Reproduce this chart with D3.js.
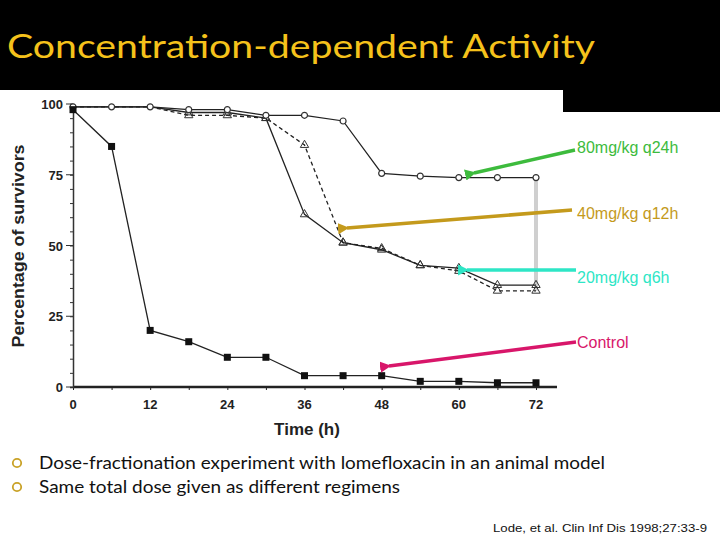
<!DOCTYPE html>
<html>
<head>
<meta charset="utf-8">
<script src="https://cdn.jsdelivr.net/npm/d3@7"></script>
<style>
  body { margin: 0; background: #fff; }
  svg { display: block; }
</style>
</head>
<body>
<div id="chart"></div>
<script>
// data
var hours = [0, 6, 12, 18, 24, 30, 36, 42, 48, 54, 60, 66, 72];
var q24h = [99, 99, 99, 98, 98, 96, 96, 94, 75.5, 74.5, 74, 74, 74];
var q12h = [99, 99, 99, 96, 96, 95, 85.5, 51, 49, 43, 41, 34, 34];
var q6h = [99, 99, 99, 97, 97, 95, 61, 51, 48.5, 43, 42, 36, 36];
var control = [98, 85, 20, 16, 10.5, 10.5, 4, 4, 4, 2, 2, 1.5, 1.5];
var xTicks = [0, 12, 24, 36, 48, 60, 72];
var yTicks = [0, 25, 50, 75, 100];
var labels = ["80mg/kg q24h", "40mg/kg q12h", "20mg/kg q6h", "Control"];
var bullets = ["Dose-fractionation experiment with lomefloxacin in an animal model",
               "Same total dose given as different regimens"];

var width = 720, height = 540;
var svg = d3.select('#chart').append('svg')
    .attr('width', width)
    .attr('height', height);

svg.append('rect').attr('width', width).attr('height', height).attr('fill', '#fff');

// black title band
svg.append('rect').attr('x', 0).attr('y', 0).attr('width', width).attr('height', 90).attr('fill', '#000');
svg.append('rect').attr('x', 563).attr('y', 89).attr('width', 157).attr('height', 23).attr('fill', '#000');

svg.append('text')
    .attr('x', 7).attr('y', 58)
    .attr('font-family', 'Lato, "Open Sans", sans-serif')
    .attr('font-size', 33)
    .attr('fill', '#f5c21b')
    .attr('textLength', 588)
    .attr('lengthAdjust', 'spacingAndGlyphs')
    .text('Concentration-dependent Activity');

var x = d3.scaleLinear().domain([0, 72]).range([73, 536]);
var y = d3.scaleLinear().domain([0, 100]).range([387, 104]);

// axes
var xAxis = svg.append('g').attr('transform', 'translate(0,387)');
xAxis.append('line').attr('x1', 73).attr('x2', 557).attr('stroke', '#999').attr('stroke-width', 2.5);
xAxis.call(d3.axisBottom(x).tickValues(d3.range(0, 73, 6)).tickSize(3).tickFormat(''))
    .call(g => g.select('.domain').remove())
    .call(g => g.selectAll('line').attr('stroke', '#222'));
xAxis.selectAll('.lbl').data(xTicks).enter().append('text')
    .attr('class', 'lbl')
    .attr('x', d => x(d)).attr('y', 22)
    .attr('text-anchor', 'middle')
    .attr('font-family', 'Arial, "Liberation Sans", sans-serif')
    .attr('font-weight', 'bold')
    .attr('font-size', 13)
    .attr('fill', '#222')
    .text(d => d);

var yAxis = svg.append('g').attr('transform', 'translate(73,0)');
yAxis.call(d3.axisLeft(y).tickValues(d3.range(0, 101, 5)).tickSize(3).tickFormat(''))
    .call(g => g.select('.domain').attr('stroke', '#333').attr('stroke-width', 1.5))
    .call(g => g.selectAll('.tick line').attr('stroke', '#333'));
yAxis.selectAll('.big').data(yTicks).enter().append('line')
    .attr('class', 'big')
    .attr('x1', -7).attr('x2', 0)
    .attr('y1', d => y(d)).attr('y2', d => y(d))
    .attr('stroke', '#333');
yAxis.selectAll('.lbl').data(yTicks).enter().append('text')
    .attr('class', 'lbl')
    .attr('x', -10).attr('y', d => y(d) + 5)
    .attr('text-anchor', 'end')
    .attr('font-family', 'Arial, "Liberation Sans", sans-serif')
    .attr('font-weight', 'bold')
    .attr('font-size', 13)
    .attr('fill', '#222')
    .text(d => d);

svg.append('text')
    .attr('transform', 'translate(24,246) rotate(-90)')
    .attr('text-anchor', 'middle')
    .attr('font-family', 'Arial, "Liberation Sans", sans-serif')
    .attr('font-weight', 'bold')
    .attr('font-size', 16)
    .attr('fill', '#222')
    .attr('textLength', 203)
    .attr('lengthAdjust', 'spacingAndGlyphs')
    .text('Percentage of survivors');

svg.append('text')
    .attr('x', 307).attr('y', 435)
    .attr('text-anchor', 'middle')
    .attr('font-family', 'Arial, "Liberation Sans", sans-serif')
    .attr('font-weight', 'bold')
    .attr('font-size', 17)
    .attr('fill', '#222')
    .text('Time (h)');

// grey bracket at 72 h
svg.append('line')
    .attr('x1', x(72)).attr('x2', x(72))
    .attr('y1', y(74)).attr('y2', y(34))
    .attr('stroke', '#cfcfcf').attr('stroke-width', 4);

var line = d3.line().x(d => x(d[0])).y(d => y(d[1]));
function pairs(vals) { return hours.map((h, i) => [h, vals[i]]); }

var series = [
  {name: 'q12h', vals: q12h, dash: '4,3', marker: 'tri'},
  {name: 'q6h', vals: q6h, dash: null, marker: 'tri'},
  {name: 'q24h', vals: q24h, dash: null, marker: 'circle'},
  {name: 'control', vals: control, dash: null, marker: 'square'}
];

series.forEach(function(s) {
  svg.append('path')
      .datum(pairs(s.vals))
      .attr('d', line)
      .attr('fill', 'none')
      .attr('stroke', '#222')
      .attr('stroke-width', 1.3)
      .attr('stroke-dasharray', s.dash);
  var pts = svg.append('g').selectAll('g').data(pairs(s.vals)).enter().append('g')
      .attr('transform', d => 'translate(' + x(d[0]) + ',' + y(d[1]) + ')');
  if (s.marker === 'square') {
    pts.append('rect').attr('x', -3.5).attr('y', -3.5).attr('width', 7).attr('height', 7).attr('fill', '#111');
  } else if (s.marker === 'circle') {
    pts.append('circle').attr('r', 3).attr('fill', '#fff').attr('stroke', '#333').attr('stroke-width', 1.2);
  } else {
    pts.filter(d => d[0] > 12).append('path')
        .attr('d', d3.symbol(d3.symbolTriangle, 30))
        .attr('fill', 'none').attr('stroke', '#333').attr('stroke-width', 1);
  }
});

// annotation arrows
var notes = [
  {text: labels[0], color: '#3dbb3d', tx: 577, ty: 147, x1: 575, y1: 150, x2: 474, y2: 173},
  {text: labels[1], color: '#c49a1c', tx: 577, ty: 213, x1: 572, y1: 210, x2: 347, y2: 228},
  {text: labels[2], color: '#2ee6c6', tx: 577, ty: 277, x1: 576, y1: 270, x2: 467, y2: 270},
  {text: labels[3], color: '#d8166a', tx: 577, ty: 342, x1: 576, y1: 342, x2: 389, y2: 366}
];

var defs = svg.append('defs');
notes.forEach(function(n, i) {
  defs.append('marker')
      .attr('id', 'arr' + i)
      .attr('viewBox', '0 0 10 10')
      .attr('refX', 2).attr('refY', 5)
      .attr('markerWidth', 3.2).attr('markerHeight', 3.2)
      .attr('orient', 'auto')
      .append('path').attr('d', 'M10,0 L0,5 L10,10 z').attr('fill', n.color);
});

var ann = svg.append('g').selectAll('g').data(notes).enter().append('g');
ann.append('line')
    .attr('x1', d => d.x1).attr('y1', d => d.y1)
    .attr('x2', d => d.x2).attr('y2', d => d.y2)
    .attr('stroke', d => d.color).attr('stroke-width', 3.5)
    .attr('marker-end', (d, i) => 'url(#arr' + i + ')');
ann.append('text')
    .attr('x', d => d.tx).attr('y', d => d.ty + 6)
    .attr('font-family', 'Arial, "Liberation Sans", sans-serif')
    .attr('font-size', 16)
    .attr('fill', d => d.color)
    .text(d => d.text);

// bullets
var b = svg.append('g').selectAll('g').data(bullets).enter().append('g')
    .attr('transform', (d, i) => 'translate(0,' + (463 + i * 24) + ')');
b.append('circle').attr('cx', 17).attr('cy', 0).attr('r', 4.2)
    .attr('fill', 'none').attr('stroke', '#c9a227').attr('stroke-width', 1.8);
b.append('text')
    .attr('x', 39).attr('y', 6)
    .attr('font-family', 'Lato, "Open Sans", sans-serif')
    .attr('font-size', 17)
    .attr('fill', '#111')
    .attr('textLength', (d, i) => i === 0 ? 566 : 361)
    .attr('lengthAdjust', 'spacingAndGlyphs')
    .text(d => d);

svg.append('text')
    .attr('x', 707).attr('y', 532)
    .attr('text-anchor', 'end')
    .attr('font-family', 'Arial, "Liberation Sans", sans-serif')
    .attr('font-size', 11)
    .attr('fill', '#111')
    .attr('textLength', 214)
    .attr('lengthAdjust', 'spacingAndGlyphs')
    .text('Lode, et al.  Clin Inf Dis 1998;27:33-9');
</script>
</body>
</html>
